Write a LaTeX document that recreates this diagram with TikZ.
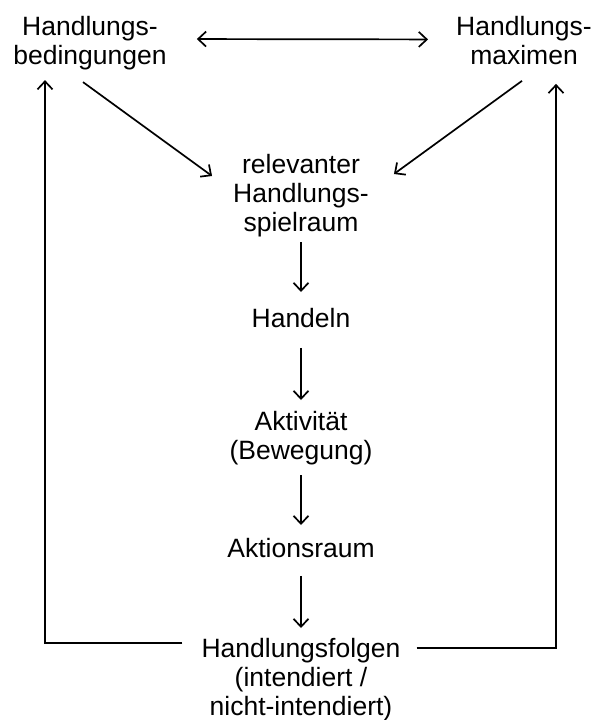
\documentclass[tikz,border=0pt]{standalone}
\usepackage{fontspec}
\setmainfont{Liberation Sans}
\usepackage{tikz}
\usetikzlibrary{arrows.meta}

\tikzset{
  lbl/.style={align=center,inner sep=0pt,anchor=north,font=\fontsize{26.5}{29}\selectfont},
  arr/.style={line width=1.7pt,-{Straight Barb[length=8pt,width=15pt]}},
  darr/.style={line width=1.7pt,{Straight Barb[length=8pt,width=15pt]}-{Straight Barb[length=8pt,width=15pt]}},
  loop/.style={line width=1.7pt,-{Straight Barb[length=8pt,width=15pt]}}
}

\begin{document}
\begin{tikzpicture}[x=1pt,y=-1pt]
  \useasboundingbox (0,0) rectangle (598,720);
  % top row
  \node[lbl] (bed) at (90,16) {Handlungs-\\bedingungen};
  \node[lbl] (max) at (524,16) {Handlungs-\\maximen};
  % middle column
  \node[lbl] (spiel) at (301,154) {relevanter\\Handlungs-\\spielraum};
  \node[lbl] (handeln) at (301,308) {Handeln};
  \node[lbl] (akt) at (301,411) {Aktivit\"at\\(Bewegung)};
  \node[lbl] (aktraum) at (301,538) {Aktionsraum};
  \node[lbl] (folgen) at (301,638) {Handlungsfolgen\\(intendiert /\\nicht-intendiert)};

  \draw[darr] ([shift={(30,-4)}]bed.east) -- ([shift={(-28,-1)}]max.west);
  \draw[arr] ([shift={(-7,12)}]bed.south) -- ([shift={(-21,22)}]spiel.north west);
  \draw[arr] ([shift={(-2,16)}]max.south) -- ([shift={(25,20)}]spiel.north east);

  \draw[arr,shorten <=5pt,shorten >=16pt] (spiel.south) -- (handeln.north);
  \draw[arr,shorten <=20pt,shorten >=11pt] (handeln.south) -- (akt.north);
  \draw[arr,shorten <=10pt,shorten >=13pt] (akt.south) -- (aktraum.north);
  \draw[arr,shorten <=18pt,shorten >=10pt] (aktraum.south) -- (folgen.north);

  % feedback back to the top row
  \draw[loop] ([shift={(-19,5)}]folgen.north west) -| ([shift={(-45,10)}]bed.south);
  \draw[loop] ([shift={(16,10)}]folgen.north east) -| ([shift={(32,19)}]max.south);
\end{tikzpicture}
\end{document}
